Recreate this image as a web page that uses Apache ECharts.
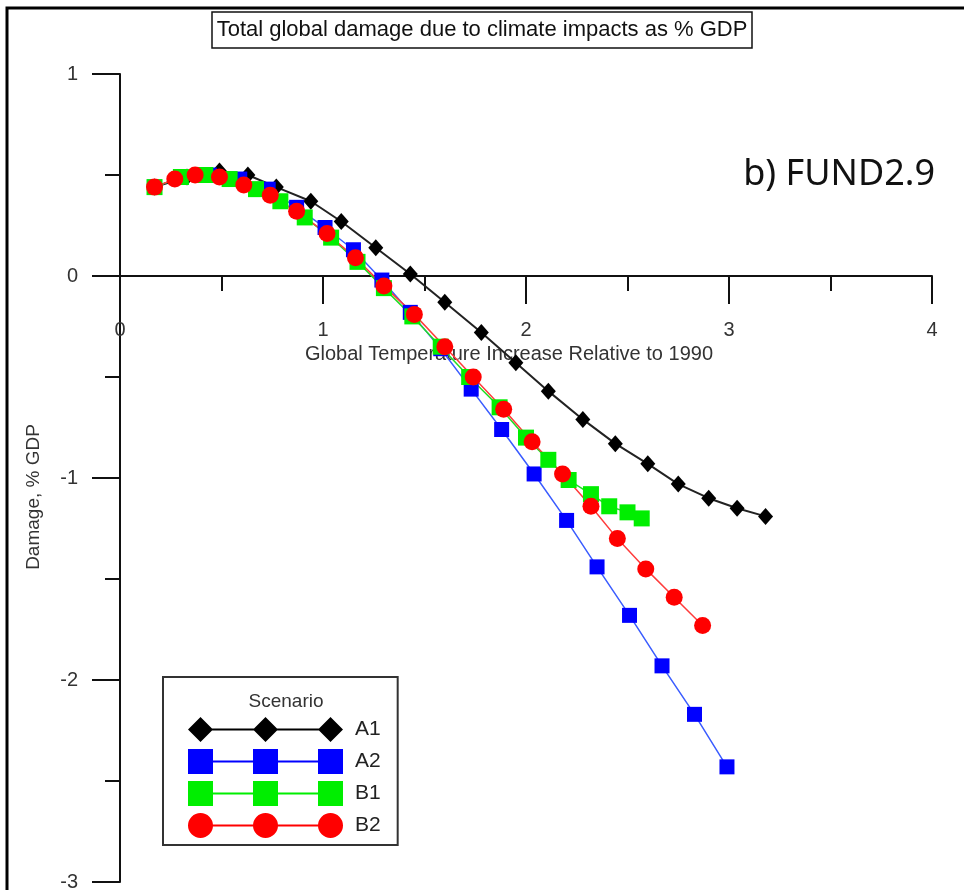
<!DOCTYPE html>
<html>
<head>
<meta charset="utf-8">
<title>Total global damage due to climate impacts as % GDP</title>
<script src="https://cdn.jsdelivr.net/npm/echarts@6/dist/echarts.min.js"></script>
<style>
    html, body { margin: 0; padding: 0; background: #fff; }
    #main { width: 964px; height: 890px; }
</style>
</head>
<body>
<div id="main"></div>
<script>
// values
const a1Temp = [0.17, 0.33, 0.49, 0.63, 0.77, 0.94, 1.09, 1.26, 1.43, 1.60, 1.78, 1.95, 2.11, 2.28, 2.44, 2.60, 2.75, 2.90, 3.04, 3.18];
const a1Damage = [0.44, 0.49, 0.52, 0.50, 0.44, 0.37, 0.27, 0.14, 0.01, -0.13, -0.28, -0.43, -0.57, -0.71, -0.83, -0.93, -1.03, -1.10, -1.15, -1.19];

const a2Temp = [0.17, 0.30, 0.44, 0.59, 0.73, 0.87, 1.01, 1.15, 1.29, 1.43, 1.58, 1.73, 1.88, 2.04, 2.20, 2.35, 2.51, 2.67, 2.83, 2.99];
const a2Damage = [0.44, 0.49, 0.50, 0.48, 0.43, 0.34, 0.24, 0.13, -0.02, -0.18, -0.36, -0.56, -0.76, -0.98, -1.21, -1.44, -1.68, -1.93, -2.17, -2.43];

const b1Temp = [0.17, 0.30, 0.42, 0.54, 0.67, 0.79, 0.91, 1.04, 1.17, 1.30, 1.44, 1.58, 1.72, 1.87, 2.00, 2.11, 2.21, 2.32, 2.41, 2.50, 2.57];
const b1Damage = [0.44, 0.49, 0.50, 0.48, 0.43, 0.37, 0.29, 0.19, 0.07, -0.06, -0.20, -0.35, -0.50, -0.65, -0.80, -0.91, -1.01, -1.08, -1.14, -1.17, -1.20];

const b2Temp = [0.17, 0.27, 0.37, 0.49, 0.61, 0.74, 0.87, 1.02, 1.16, 1.30, 1.45, 1.60, 1.74, 1.89, 2.03, 2.18, 2.32, 2.45, 2.59, 2.73, 2.87];
const b2Damage = [0.44, 0.48, 0.50, 0.49, 0.45, 0.40, 0.32, 0.21, 0.09, -0.05, -0.19, -0.35, -0.50, -0.66, -0.82, -0.98, -1.14, -1.30, -1.45, -1.59, -1.73];

const scenarios = ['A1', 'A2', 'B1', 'B2'];
const xTicks = [0, 1, 2, 3, 4];
const yTicks = [1, 0, -1, -2, -3];

const FONT = 'Liberation Sans';

// grid box (px) and where y=0 falls inside it
const GRID_TOP = 74;
const GRID_HEIGHT = 808;
const zeroShift = -GRID_HEIGHT * (0 - yTicks[yTicks.length - 1]) / (yTicks[0] - yTicks[yTicks.length - 1]);

function zip(xs, ys) {
    return xs.map((x, i) => [x, ys[i]]);
}

// legend icons: three markers joined by a line, 155x25
const iconDiamond = 'path://M0 12.5 L12.5 0 L25 12.5 L12.5 25 Z M65 12.5 L77.5 0 L90 12.5 L77.5 25 Z M130 12.5 L142.5 0 L155 12.5 L142.5 25 Z M12 11.5 L143 11.5 L143 13.5 L12 13.5 Z';
const iconSquare = 'path://M0 0 L25 0 L25 25 L0 25 Z M65 0 L90 0 L90 25 L65 25 Z M130 0 L155 0 L155 25 L130 25 Z M12 11.5 L143 11.5 L143 13.5 L12 13.5 Z';
const iconCircle = 'path://M0 12.5 A12.5 12.5 0 1 1 25 12.5 A12.5 12.5 0 1 1 0 12.5 Z M65 12.5 A12.5 12.5 0 1 1 90 12.5 A12.5 12.5 0 1 1 65 12.5 Z M130 12.5 A12.5 12.5 0 1 1 155 12.5 A12.5 12.5 0 1 1 130 12.5 Z M12 11.5 L143 11.5 L143 13.5 L12 13.5 Z';

function lineSeries(name, temp, damage, symbol, size, color, lineColor, lineWidth) {
    return {
        name: name,
        type: 'line',
        data: zip(temp, damage),
        symbol: symbol,
        symbolSize: size,
        showSymbol: true,
        itemStyle: { color: color, borderWidth: 0 },
        lineStyle: { color: lineColor, width: lineWidth },
        emphasis: { disabled: true }
    };
}

const option = {
    animation: false,
    backgroundColor: '#fff',
    title: {
        text: 'Total global damage due to climate impacts as % GDP',
        left: 'center',
        top: 12,
        padding: [7, 5, 7, 5],
        borderColor: '#111',
        borderWidth: 1.5,
        textStyle: { fontFamily: FONT, fontSize: 22, fontWeight: 'normal', color: '#111' }
    },
    grid: {
        left: 120,
        top: GRID_TOP,
        width: 812,
        height: GRID_HEIGHT,
        containLabel: false,
        outerBoundsMode: 'none'
    },
    legend: {
        orient: 'vertical',
        left: 163,
        top: 677,
        padding: [40, 17, 7, 25],
        itemWidth: 155,
        itemHeight: 25,
        itemGap: 7,
        selectedMode: false,
        borderColor: '#333',
        borderWidth: 2,
        textStyle: { fontFamily: FONT, fontSize: 21, color: '#222', padding: [0, 0, 0, 7] },
        data: [
            { name: scenarios[0], icon: iconDiamond },
            { name: scenarios[1], icon: iconSquare },
            { name: scenarios[2], icon: iconSquare },
            { name: scenarios[3], icon: iconCircle }
        ]
    },
    xAxis: {
        type: 'value',
        position: 'bottom',
        offset: zeroShift,
        min: xTicks[0],
        max: xTicks[xTicks.length - 1],
        interval: 1,
        name: 'Global Temperature Increase Relative to 1990',
        nameLocation: 'middle',
        nameGap: 68,
        nameTextStyle: { fontFamily: FONT, fontSize: 20, color: '#333', padding: [0, 34, 0, 0] },
        axisLine: { show: true, onZero: false, lineStyle: { color: '#111', width: 2 } },
        axisTick: { show: true, length: 28, lineStyle: { color: '#111', width: 2 } },
        minorTick: { show: true, splitNumber: 2, length: 15, lineStyle: { color: '#111', width: 2 } },
        axisLabel: { margin: 44, fontFamily: FONT, fontSize: 20, color: '#333' },
        splitLine: { show: false },
        minorSplitLine: { show: false }
    },
    yAxis: {
        type: 'value',
        min: yTicks[yTicks.length - 1],
        max: yTicks[0],
        interval: 1,
        name: 'Damage, % GDP',
        nameLocation: 'middle',
        nameGap: 77,
        nameTextStyle: { fontFamily: FONT, fontSize: 19, color: '#333', padding: [0, 38, 0, 0] },
        axisLine: { show: true, onZero: false, lineStyle: { color: '#111', width: 2 } },
        axisTick: { show: true, length: 28, lineStyle: { color: '#111', width: 2 } },
        minorTick: { show: true, splitNumber: 2, length: 15, lineStyle: { color: '#111', width: 2 } },
        axisLabel: { margin: 42, fontFamily: FONT, fontSize: 20, color: '#333' },
        splitLine: { show: false },
        minorSplitLine: { show: false }
    },
    graphic: [
        {
            type: 'rect',
            silent: true,
            shape: { x: 7, y: 8, width: 1000, height: 1000 },
            style: { fill: 'none', stroke: '#000', lineWidth: 3 }
        },
        {
            type: 'text',
            silent: true,
            x: 935,
            y: 175,
            style: {
                text: 'b) FUND2.9',
                fontFamily: 'Noto Sans',
                fontSize: 36,
                fill: '#111',
                textAlign: 'right',
                textVerticalAlign: 'middle'
            }
        },
        {
            type: 'text',
            silent: true,
            x: 286,
            y: 702,
            z: 10,
            style: {
                text: 'Scenario',
                fontFamily: FONT,
                fontSize: 19,
                fill: '#333',
                textAlign: 'center',
                textVerticalAlign: 'middle'
            }
        }
    ],
    series: [
        lineSeries(scenarios[0], a1Temp, a1Damage, 'diamond', [15, 17], '#000', '#222', 2),
        lineSeries(scenarios[1], a2Temp, a2Damage, 'rect', 15, '#0000ff', '#3a5cff', 1.5),
        lineSeries(scenarios[2], b1Temp, b1Damage, 'rect', 16, '#00ee00', '#22dd22', 1.5),
        lineSeries(scenarios[3], b2Temp, b2Damage, 'circle', 17, '#ff0000', '#ff3b3b', 1.5)
    ]
};

function addChart(dom, option) {
    let myChart = echarts.init(dom);
    myChart.setOption(option);
    window.addEventListener('resize', function() {
        myChart.resize();
    });
    return myChart;
}

addChart(document.getElementById('main'), option);
</script>
</body>
</html>
